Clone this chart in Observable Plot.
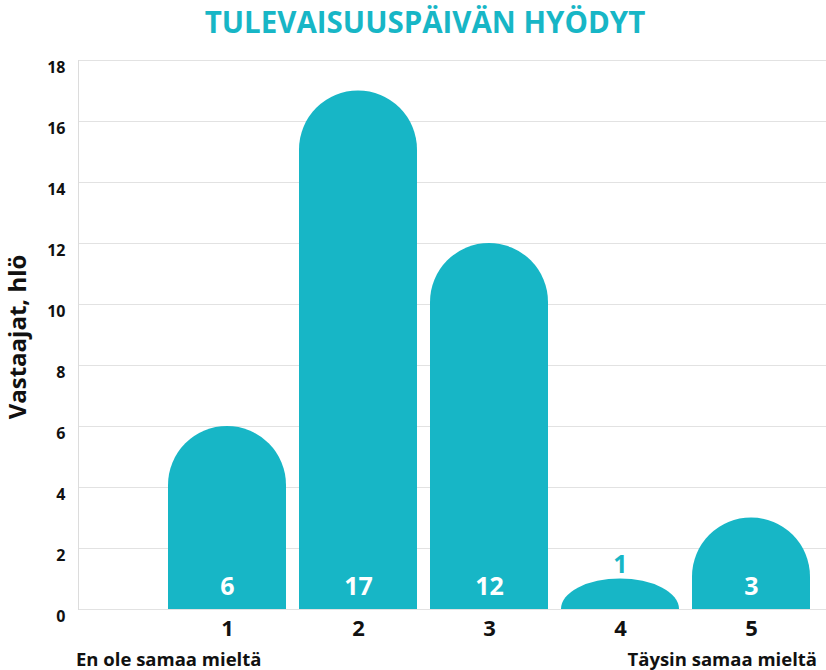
<!DOCTYPE html>
<html><head><meta charset="utf-8">
<script src="https://cdn.jsdelivr.net/npm/d3@7"></script>
<script src="https://cdn.jsdelivr.net/npm/@observablehq/plot@0.6"></script>
<style>
body{margin:0;background:#fff;font-family:"Open Sans",sans-serif;}
#wrap{position:relative;width:826px;height:670px;overflow:hidden;}
#title{position:absolute;left:24px;right:0;top:0px;height:44px;line-height:44px;text-align:center;font-size:29.5px;font-weight:700;color:#17b6c6;white-space:nowrap;}
#chart{position:absolute;left:0;top:45px;}
#ytitle{position:absolute;left:-133px;top:323px;width:300px;height:28px;line-height:28px;text-align:center;font-size:24px;font-weight:700;color:#111;transform:rotate(-90deg);transform-origin:center;white-space:nowrap;}
.foot{position:absolute;top:646px;font-size:18.5px;line-height:26px;font-weight:700;color:#111;white-space:nowrap;}
</style></head><body>
<div id="wrap">
<div id="title">TULEVAISUUSPÄIVÄN HYÖDYT</div>
<div id="chart"></div>
<div id="ytitle">Vastaajat, hlö</div>
<div class="foot" style="left:76px">En ole samaa mieltä</div>
<div class="foot" style="right:9px">Täysin samaa mieltä</div>
</div>
<script>
const categories = ["1", "2", "3", "4", "5"];
const values = [6, 17, 12, 1, 3];
const yTicks = [0, 2, 4, 6, 8, 10, 12, 14, 16, 18];
const barColor = "#17b6c6";

const data = categories.map((c, i) => ({cat: c, value: values[i]}));

const chart = Plot.plot({
  width: 826,
  height: 600,
  marginTop: 15,
  marginBottom: 36,
  marginLeft: 78,
  marginRight: 0,
  style: {fontFamily: "Open Sans", background: "#fff"},
  x: {domain: categories, paddingInner: 0.1, paddingOuter: 0.05, insetLeft: 83.5, insetRight: 9.5, label: null},
  y: {domain: [0, 18], label: null},
  marks: [
    Plot.gridY(yTicks, {stroke: "#e2e2e2", strokeOpacity: 1, strokeWidth: 1.2}),
    Plot.frame({anchor: "left", stroke: "#dcdcdc"}),
    Plot.barY(data, {x: "cat", y: "value", fill: barColor}),
    Plot.text(data.filter(d => d.value >= 2), {x: "cat", y: 0, text: d => String(d.value), fill: "white", fontSize: 25, fontWeight: 700, dy: -23, lineAnchor: "middle"}),
    Plot.text(data.filter(d => d.value < 2), {x: "cat", y: "value", text: d => String(d.value), fill: barColor, fontSize: 25, fontWeight: 700, dy: -14, lineAnchor: "middle"}),
    Plot.axisY({ticks: yTicks, tickSize: 0, tickPadding: 13, fontSize: 16, fontWeight: 700, fill: "#111", dy: 7, label: null}),
    Plot.axisX({tickSize: 0, tickPadding: 11, fontSize: 22, fontWeight: 700, fill: "#111", label: null})
  ]
});

// Round the bar tops into domes (derived from the rects Plot drew)
const NS = "http://www.w3.org/2000/svg";
chart.querySelectorAll('g[aria-label="bar"] rect').forEach(rect => {
  const x = +rect.getAttribute("x"), y = +rect.getAttribute("y");
  const w = +rect.getAttribute("width"), h = +rect.getAttribute("height");
  const y0 = y + h, r = w / 2;
  let d;
  if (h >= r) {
    d = `M${x},${y0}V${y + r}A${r},${r} 0 0 1 ${x + w},${y + r}V${y0}Z`;
  } else {
    d = `M${x},${y0}A${r},${h} 0 0 1 ${x + w},${y0}Z`;
  }
  const p = document.createElementNS(NS, "path");
  p.setAttribute("d", d);
  rect.replaceWith(p);
});

document.getElementById("chart").appendChild(chart);
</script>
</body></html>
